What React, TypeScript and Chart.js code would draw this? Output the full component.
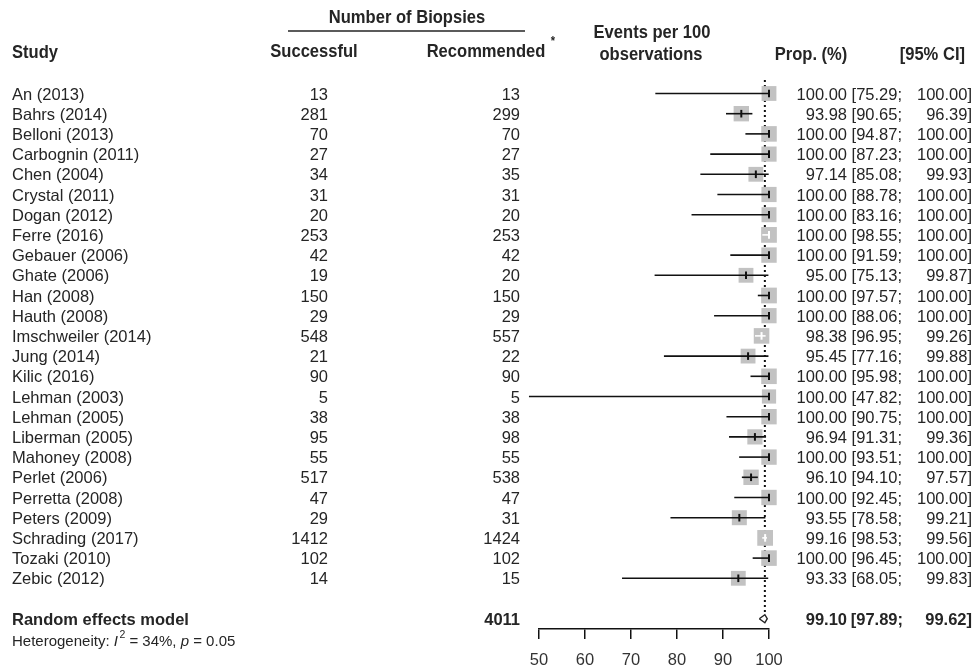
import React, { useEffect, useRef } from 'react';
import { Chart, registerables } from 'chart.js';

Chart.register(...registerables);

// ---------- data ----------
const studies = [
  'An (2013)', 'Bahrs (2014)', 'Belloni (2013)', 'Carbognin (2011)', 'Chen (2004)',
  'Crystal (2011)', 'Dogan (2012)', 'Ferre (2016)', 'Gebauer (2006)', 'Ghate (2006)',
  'Han (2008)', 'Hauth (2008)', 'Imschweiler (2014)', 'Jung (2014)', 'Kilic (2016)',
  'Lehman (2003)', 'Lehman (2005)', 'Liberman (2005)', 'Mahoney (2008)', 'Perlet (2006)',
  'Perretta (2008)', 'Peters (2009)', 'Schrading (2017)', 'Tozaki (2010)', 'Zebic (2012)',
];
const successful = [13, 281, 70, 27, 34, 31, 20, 253, 42, 19, 150, 29, 548, 21, 90, 5, 38, 95, 55, 517, 47, 29, 1412, 102, 14];
const recommended = [13, 299, 70, 27, 35, 31, 20, 253, 42, 20, 150, 29, 557, 22, 90, 5, 38, 98, 55, 538, 47, 31, 1424, 102, 15];
const proportion = [100.0, 93.98, 100.0, 100.0, 97.14, 100.0, 100.0, 100.0, 100.0, 95.0, 100.0, 100.0, 98.38, 95.45, 100.0, 100.0, 100.0, 96.94, 100.0, 96.1, 100.0, 93.55, 99.16, 100.0, 93.33];
const ciLower = [75.29, 90.65, 94.87, 87.23, 85.08, 88.78, 83.16, 98.55, 91.59, 75.13, 97.57, 88.06, 96.95, 77.16, 95.98, 47.82, 90.75, 91.31, 93.51, 94.1, 92.45, 78.58, 98.53, 96.45, 68.05];
const ciUpper = [100.0, 96.39, 100.0, 100.0, 99.93, 100.0, 100.0, 100.0, 100.0, 99.87, 100.0, 100.0, 99.26, 99.88, 100.0, 100.0, 100.0, 99.36, 100.0, 97.57, 100.0, 99.21, 99.56, 100.0, 99.83];
// estimated study weights (%), read from square sizes
const weights = [3.9, 4.2, 4.3, 4.1, 3.9, 4.1, 4.0, 4.4, 4.2, 3.9, 4.4, 4.1, 4.3, 3.9, 4.3, 3.6, 4.2, 4.1, 4.2, 4.2, 4.2, 4.0, 4.4, 4.3, 3.9];

const pooledLabel = 'Random effects model';
const pooledTotal = 4011;
const pooledProp = 99.1;
const pooledLower = 97.89;
const pooledUpper = 99.62;
const heterogeneityI2 = 34;
const heterogeneityP = '0.05';

const xTicks = [50, 60, 70, 80, 90, 100];

// ---------- layout / style ----------
const W = 975;
const H = 669;
const SANS = '"Liberation Sans", Arial, sans-serif';
const TEXT = '#252525';
const PX_PER_UNIT = 230 / 50;
const POOLED_ROW = 26;
const NARROW_SCALE = 0.92;
const squareSide = weights.map((w) => 7.5 * Math.sqrt(w));
// CI drawn white when it lies entirely inside its square
const ciInside = proportion.map((p, i) => {
  const half = squareSide[i] / 2 / PX_PER_UNIT;
  return ciLower[i] >= p - half && ciUpper[i] <= p + half;
});
const fmt = (v: number) => v.toFixed(2);

function narrowText(ctx: CanvasRenderingContext2D, t: string, x: number, y: number, align: 'left' | 'center' | 'right') {
  ctx.save();
  ctx.translate(x, y);
  ctx.scale(NARROW_SCALE, 1);
  ctx.textAlign = align;
  ctx.fillText(t, 0, 0);
  ctx.restore();
}

const textPlugin = {
  id: 'forestText',
  afterDraw(chart: any) {
    const { ctx } = chart;
    const ys = chart.scales.y;
    ctx.save();
    ctx.fillStyle = TEXT;
    ctx.strokeStyle = TEXT;

    // headers
    ctx.textBaseline = 'middle';
    ctx.font = `bold 18px ${SANS}`;
    narrowText(ctx, 'Number of Biopsies', 407, 18, 'center');
    ctx.lineWidth = 1.5;
    ctx.beginPath();
    ctx.moveTo(288, 31);
    ctx.lineTo(525, 31);
    ctx.stroke();
    narrowText(ctx, 'Study', 12, 53, 'left');
    narrowText(ctx, 'Successful', 314, 52, 'center');
    narrowText(ctx, 'Recommended', 486, 52, 'center');
    narrowText(ctx, 'Events per 100', 652, 33, 'center');
    narrowText(ctx, 'observations', 651, 55, 'center');
    narrowText(ctx, 'Prop. (%)', 811, 55, 'center');
    narrowText(ctx, '[95% CI]', 965, 55, 'right');
    ctx.font = `bold 12px ${SANS}`;
    narrowText(ctx, '*', 553, 42, 'center');

    // rows
    ctx.font = `16.5px ${SANS}`;
    studies.forEach((s, i) => {
      const y = ys.getPixelForValue(i) + 1.5;
      ctx.textAlign = 'left';
      ctx.fillText(s, 12, y);
      ctx.textAlign = 'right';
      ctx.fillText(String(successful[i]), 328, y);
      ctx.fillText(String(recommended[i]), 520, y);
      ctx.fillText(fmt(proportion[i]), 847, y);
      ctx.fillText(`[${fmt(ciLower[i])};`, 902, y);
      ctx.fillText(`${fmt(ciUpper[i])}]`, 972, y);
    });

    // pooled row
    const py = ys.getPixelForValue(POOLED_ROW) + 2;
    ctx.font = `bold 16.5px ${SANS}`;
    ctx.textAlign = 'left';
    ctx.fillText(pooledLabel, 12, py);
    ctx.textAlign = 'right';
    ctx.fillText(String(pooledTotal), 520, py);
    ctx.fillText(fmt(pooledProp), 847, py);
    ctx.fillText(`[${fmt(pooledLower)};`, 903, py);
    ctx.fillText(`${fmt(pooledUpper)}]`, 972, py);

    // heterogeneity
    const hy = ys.getPixelForValue(POOLED_ROW + 1) + 3;
    ctx.textAlign = 'left';
    let x = 12;
    const put = (t: string, font: string, dy = 0) => {
      ctx.font = font;
      ctx.fillText(t, x, hy + dy);
      x += ctx.measureText(t).width;
    };
    put('Heterogeneity: ', `15px ${SANS}`);
    put('I', `italic 15px ${SANS}`);
    x += 1.5;
    put('2', `10.5px ${SANS}`, -7);
    put(` = ${heterogeneityI2}%, `, `15px ${SANS}`);
    put('p', `italic 15px ${SANS}`);
    put(` = ${heterogeneityP}`, `15px ${SANS}`);
    ctx.restore();
  },
};

export default function App() {
  const ref = useRef<HTMLCanvasElement>(null);
  useEffect(() => {
    if (!ref.current) return;
    const ciData: any[] = [];
    studies.forEach((_, i) => {
      ciData.push({ x: ciLower[i], y: i }, { x: ciUpper[i], y: i }, { x: NaN, y: NaN });
    });
    const chart = new Chart(ref.current, {
      type: 'scatter',
      data: {
        datasets: [
          {
            type: 'line',
            data: [
              { x: pooledProp, y: -0.67 },
              { x: pooledProp, y: POOLED_ROW - 0.2 },
            ],
            borderColor: '#111',
            borderWidth: 2,
            borderDash: [2, 3],
            pointRadius: 0,
            clip: false,
            order: 4,
          } as any,
          {
            type: 'scatter',
            data: studies.map((_, i) => ({ x: proportion[i], y: i })),
            pointStyle: 'rect',
            pointRadius: squareSide.map((s) => s / Math.SQRT2),
            pointBackgroundColor: '#c2c2c2',
            pointBorderWidth: 0,
            borderWidth: 0,
            clip: false,
            order: 3,
          } as any,
          {
            type: 'line',
            data: ciData,
            borderColor: '#111',
            borderWidth: 1.6,
            pointRadius: 0,
            spanGaps: false,
            clip: false,
            segment: {
              borderColor: (c: any) => (ciInside[Math.floor(c.p0DataIndex / 3)] ? '#ffffff' : '#111'),
            },
            order: 2,
          } as any,
          {
            type: 'scatter',
            data: studies.map((_, i) => ({ x: proportion[i], y: i })),
            pointStyle: 'line',
            rotation: 90,
            pointRadius: 3.8,
            pointBorderWidth: 2,
            pointBorderColor: ciInside.map((b) => (b ? '#ffffff' : '#111')),
            clip: false,
            order: 1,
          } as any,
          {
            type: 'line',
            data: [
              { x: pooledLower, y: POOLED_ROW },
              { x: pooledProp, y: POOLED_ROW - 0.2 },
              { x: pooledUpper, y: POOLED_ROW },
              { x: pooledProp, y: POOLED_ROW + 0.2 },
              { x: pooledLower, y: POOLED_ROW },
            ],
            borderColor: '#222',
            borderWidth: 1.4,
            fill: false,
            pointRadius: 0,
            clip: false,
            order: 0,
          } as any,
        ],
      },
      options: {
        responsive: false,
        animation: false,
        events: [],
        layout: { padding: { left: 539, right: 206, top: 80, bottom: 0 } },
        plugins: { legend: { display: false }, tooltip: { enabled: false } },
        scales: {
          x: {
            type: 'linear',
            position: 'bottom',
            min: 50,
            max: 100,
            afterBuildTicks: (axis: any) => {
              axis.ticks = xTicks.map((v) => ({ value: v }));
            },
            afterFit: (axis: any) => {
              axis.height = 40;
            },
            ticks: { font: { family: SANS, size: 16.5 }, color: '#333', padding: 12 },
            grid: { drawOnChartArea: false, drawTicks: true, tickLength: 10, color: '#111', lineWidth: 1.5 },
            border: { display: true, color: '#111', width: 1.5 },
          },
          y: {
            type: 'linear',
            display: false,
            reverse: true,
            min: -0.668,
            max: 26.51,
          },
        },
      } as any,
      plugins: [textPlugin],
    });
    return () => chart.destroy();
  }, []);
  return (
    <div style={{ position: 'fixed', left: 0, top: 0, width: W, height: H, background: '#fff' }}>
      <canvas ref={ref} width={W} height={H} style={{ width: W, height: H, display: 'block' }} />
    </div>
  );
}
